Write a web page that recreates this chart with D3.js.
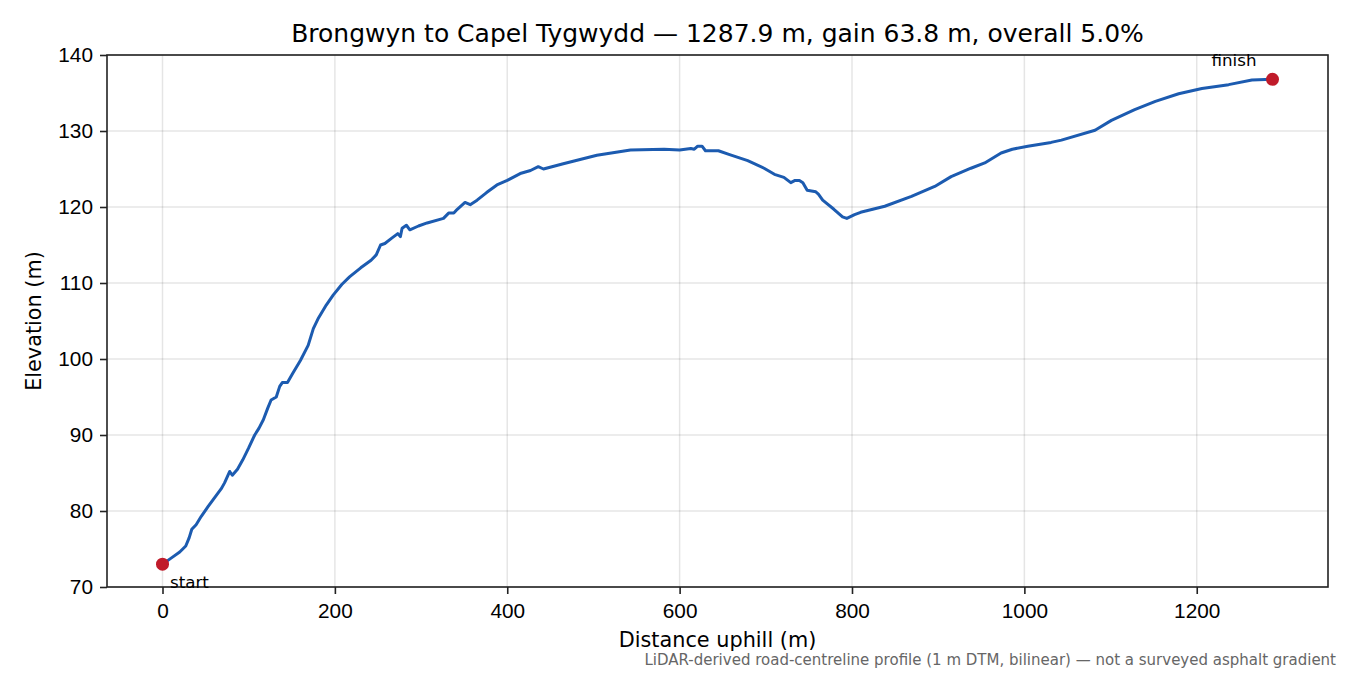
<!DOCTYPE html>
<html>
<head>
<meta charset="utf-8">
<script src="https://cdn.jsdelivr.net/npm/d3@7"></script>
<style>
  body { margin: 0; background: #fff; }
  svg { font-family: "DejaVu Sans", sans-serif; }
  .grid line { stroke: #000; stroke-opacity: 0.1; stroke-width: 1.5; }
  .axis path, .axis line { stroke: #222; stroke-width: 1.6; }
  .axis text { font-size: 20.8px; fill: #000; }
</style>
</head>
<body>
<svg id="chart"></svg>
<script>
const distance = [
  0, 10, 20, 27, 31, 34, 39, 45, 53, 62, 68, 72, 78, 81, 87, 93, 100, 107, 112, 117,
  122, 126, 132, 136, 139, 145, 151, 160, 169, 175, 181, 190, 198, 208, 217, 230, 242, 248, 253, 258,
  266, 273, 276, 278, 283, 287, 297, 307, 326, 332, 338, 342, 351, 357, 365, 376, 388, 400, 415, 427,
  436, 442, 465, 504, 543, 582, 600, 613, 617, 621, 626, 630, 645, 658, 679, 698, 710, 721, 729, 734,
  739, 743, 748, 758, 761, 766, 779, 789, 794, 803, 810, 838, 869, 896, 915, 938, 954, 973, 986, 1004,
  1031, 1043, 1082, 1101, 1128, 1152, 1179, 1206, 1237, 1264, 1287.9
];
const elevation = [
  73.0, 73.8, 74.6, 75.4, 76.5, 77.6, 78.2, 79.3, 80.6, 82.0, 82.9, 83.7, 85.2, 84.7, 85.5, 86.7, 88.3, 90.0, 90.9, 92.0,
  93.5, 94.6, 95.0, 96.4, 96.9, 96.9, 98.1, 99.8, 101.8, 104.0, 105.4, 107.1, 108.4, 109.8, 110.8, 112.0, 113.0, 113.7, 115.0, 115.2,
  115.9, 116.5, 116.1, 117.2, 117.6, 117.0, 117.5, 117.9, 118.5, 119.2, 119.2, 119.7, 120.6, 120.3, 120.9, 121.9, 122.9, 123.5, 124.4, 124.8,
  125.3, 125.0, 125.7, 126.8, 127.5, 127.6, 127.5, 127.7, 127.6, 128.0, 128.0, 127.4, 127.4, 126.9, 126.1, 125.1, 124.3, 123.9, 123.2, 123.5,
  123.5, 123.2, 122.2, 122.0, 121.7, 120.9, 119.7, 118.7, 118.5, 119.0, 119.3, 120.1, 121.4, 122.7, 124.0, 125.1, 125.8, 127.1, 127.6, 128.0,
  128.5, 128.8, 130.1, 131.4, 132.8, 133.9, 134.9, 135.6, 136.1, 136.7, 136.8
];
const xTicks = [0, 200, 400, 600, 800, 1000, 1200];
const yTicks = [70, 80, 90, 100, 110, 120, 130, 140];
const endpoints = [
  { label: "start", d: distance[0], e: elevation[0] },
  { label: "finish", d: distance[distance.length - 1], e: elevation[elevation.length - 1] }
];

const width = 1350;
const height = 675;
const margin = { top: 55, right: 22, bottom: 88, left: 107 };

const points = distance.map((d, i) => ({ d, e: elevation[i] }));
const maxD = d3.max(distance);

const svg = d3.select("#chart")
  .attr("width", width)
  .attr("height", height);

const x = d3.scaleLinear()
  .domain([-0.05 * maxD, maxD * 1.05])
  .range([margin.left, width - margin.right]);

const y = d3.scaleLinear()
  .domain([70, 140])
  .range([height - margin.bottom, margin.top]);

// grid
svg.append("g")
  .attr("class", "grid")
  .selectAll("line")
  .data(xTicks)
  .enter()
  .append("line")
  .attr("x1", d => x(d)).attr("x2", d => x(d))
  .attr("y1", margin.top).attr("y2", height - margin.bottom);

svg.append("g")
  .attr("class", "grid")
  .selectAll("line")
  .data(yTicks)
  .enter()
  .append("line")
  .attr("x1", margin.left).attr("x2", width - margin.right)
  .attr("y1", d => y(d)).attr("y2", d => y(d));

// axes
svg.append("g")
  .attr("class", "axis")
  .attr("transform", `translate(0,${height - margin.bottom})`)
  .call(d3.axisBottom(x).tickValues(xTicks).tickFormat(d3.format("d")).tickSize(7).tickPadding(9))
  .call(g => g.select(".domain").remove());

svg.append("g")
  .attr("class", "axis")
  .attr("transform", `translate(${margin.left},0)`)
  .call(d3.axisLeft(y).tickValues(yTicks).tickSize(7).tickPadding(7))
  .call(g => g.select(".domain").remove());

svg.append("rect")
  .attr("x", margin.left)
  .attr("y", margin.top)
  .attr("width", width - margin.left - margin.right)
  .attr("height", height - margin.top - margin.bottom)
  .attr("fill", "none")
  .attr("stroke", "#222")
  .attr("stroke-width", 1.6);

// profile
const line = d3.line()
  .x(d => x(d.d))
  .y(d => y(d.e));

svg.append("path")
  .datum(points)
  .attr("fill", "none")
  .attr("stroke", "#1c5bb0")
  .attr("stroke-width", 3)
  .attr("stroke-linejoin", "round")
  .attr("d", line);

svg.selectAll("circle.end")
  .data(endpoints)
  .enter()
  .append("circle")
  .attr("cx", d => x(d.d))
  .attr("cy", d => y(d.e))
  .attr("r", 6.5)
  .attr("fill", "#c01b2a");

svg.append("text")
  .attr("x", x(endpoints[0].d) + 7.5)
  .attr("y", y(endpoints[0].e) + 24)
  .attr("font-size", 16.7)
  .text(endpoints[0].label);

svg.append("text")
  .attr("x", x(endpoints[1].d) - 16)
  .attr("y", y(endpoints[1].e) - 13)
  .attr("text-anchor", "end")
  .attr("font-size", 16.7)
  .text(endpoints[1].label);

// labels
svg.append("text")
  .attr("x", (margin.left + width - margin.right) / 2)
  .attr("y", 42)
  .attr("text-anchor", "middle")
  .attr("font-size", 25)
  .text("Brongwyn to Capel Tygwydd \u2014 1287.9 m, gain 63.8 m, overall 5.0%");

svg.append("text")
  .attr("x", (margin.left + width - margin.right) / 2)
  .attr("y", 647)
  .attr("text-anchor", "middle")
  .attr("font-size", 20.8)
  .text("Distance uphill (m)");

svg.append("text")
  .attr("transform", `translate(41,${(margin.top + height - margin.bottom) / 2}) rotate(-90)`)
  .attr("text-anchor", "middle")
  .attr("font-size", 20.8)
  .text("Elevation (m)");

svg.append("text")
  .attr("x", 1336)
  .attr("y", 665)
  .attr("text-anchor", "end")
  .attr("font-size", 15)
  .attr("fill", "#666")
  .text("LiDAR-derived road-centreline profile (1 m DTM, bilinear) \u2014 not a surveyed asphalt gradient");
</script>
</body>
</html>
